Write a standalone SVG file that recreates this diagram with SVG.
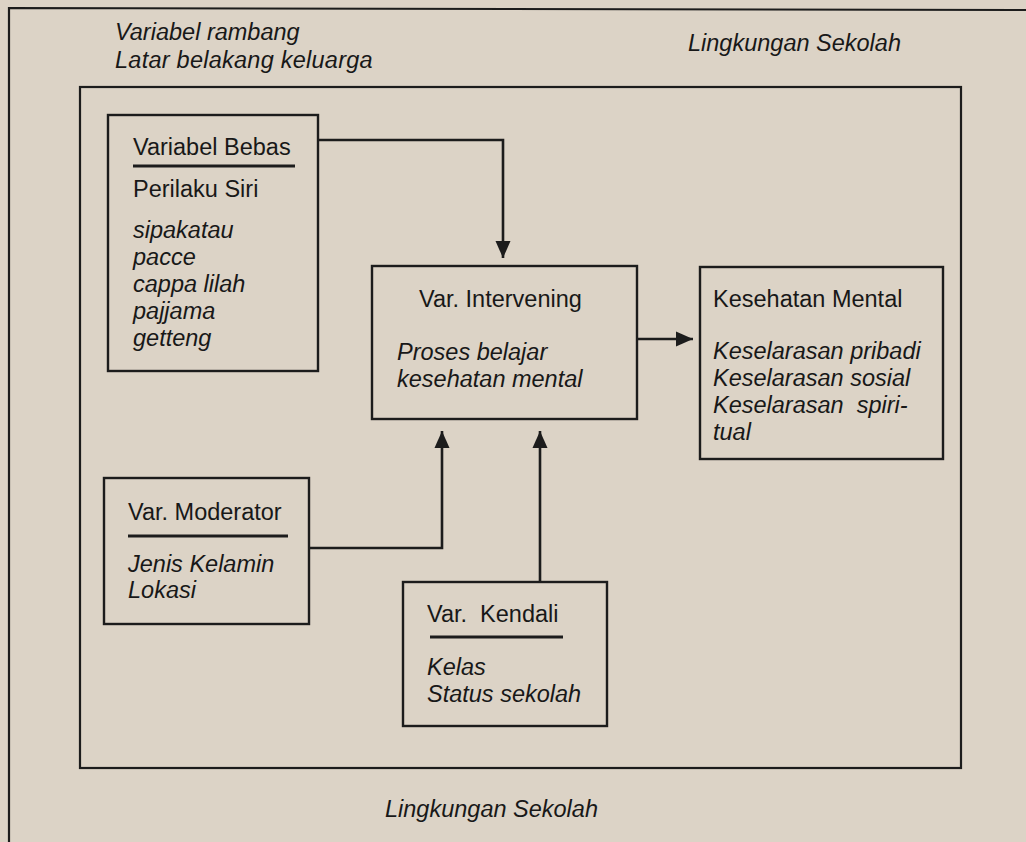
<svg xmlns="http://www.w3.org/2000/svg" width="1026" height="842" viewBox="0 0 1026 842">
<defs>
<style>
.bg{fill:#dcd3c6}
.frame{fill:none;stroke:#1c1c1c;stroke-width:2.2}
.box{fill:none;stroke:#1c1c1c;stroke-width:2.4}
.ul{stroke:#1c1c1c;stroke-width:3.2}
.edge{fill:none;stroke:#1c1c1c;stroke-width:2.6}
text{font-family:"Liberation Sans",Arial,Helvetica,sans-serif;font-size:23.5px;fill:#181818}
.it{font-style:italic}
</style>
<marker id="ah" markerUnits="userSpaceOnUse" markerWidth="18" markerHeight="18" viewBox="0 0 18 18" refX="17" refY="9" orient="auto">
<path d="M0,1.5 L17,9 L0,16.5 Z" fill="#1c1c1c"/>
</marker>
</defs>
<rect class="bg" x="0" y="0" width="1026" height="842"/>

<g id="outer-frame">
<polyline class="frame" points="9,842 9,8 1026,10"/>
<text class="it" x="115" y="40">Variabel rambang</text>
<text class="it" x="115" y="68" letter-spacing="0.25">Latar belakang keluarga</text>
</g>

<g id="inner-frame">
<rect class="frame" x="80" y="87" width="881" height="681"/>
<text class="it" x="688" y="51">Lingkungan Sekolah</text>
<text class="it" x="385" y="817">Lingkungan Sekolah</text>
</g>

<g id="variabel-bebas">
<rect class="box" x="108" y="115" width="210" height="256"/>
<text x="133" y="155">Variabel Bebas</text>
<line class="ul" x1="133" y1="166" x2="295" y2="166"/>
<text x="133" y="197">Perilaku Siri</text>
<text class="it" x="133" y="238">sipakatau</text>
<text class="it" x="133" y="265">pacce</text>
<text class="it" x="133" y="292">cappa lilah</text>
<text class="it" x="133" y="319">pajjama</text>
<text class="it" x="133" y="346">getteng</text>
</g>

<g id="var-intervening">
<rect class="box" x="372" y="266" width="265" height="153"/>
<text x="419" y="307">Var. Intervening</text>
<text class="it" x="397" y="360">Proses belajar</text>
<text class="it" x="397" y="387">kesehatan mental</text>
</g>

<g id="kesehatan-mental">
<rect class="box" x="700" y="267" width="243" height="192"/>
<text x="713" y="307">Kesehatan Mental</text>
<text class="it" x="713" y="359">Keselarasan pribadi</text>
<text class="it" x="713" y="386">Keselarasan sosial</text>
<text class="it" x="713" y="413" xml:space="preserve">Keselarasan  spiri-</text>
<text class="it" x="713" y="440">tual</text>
</g>

<g id="var-moderator">
<rect class="box" x="104" y="478" width="205" height="146"/>
<text x="128" y="520">Var. Moderator</text>
<line class="ul" x1="128" y1="536" x2="288" y2="536"/>
<text class="it" x="128" y="572">Jenis Kelamin</text>
<text class="it" x="128" y="598">Lokasi</text>
</g>

<g id="var-kendali">
<rect class="box" x="403" y="582" width="204" height="144"/>
<text x="427" y="622" xml:space="preserve">Var.  Kendali</text>
<line class="ul" x1="430" y1="637" x2="563" y2="637"/>
<text class="it" x="427" y="675">Kelas</text>
<text class="it" x="427" y="702">Status sekolah</text>
</g>

<g id="connectors">
<polyline class="edge" points="318,140 503,140 503,258" marker-end="url(#ah)"/>
<line class="edge" x1="637" y1="339" x2="693" y2="339" marker-end="url(#ah)"/>
<polyline class="edge" points="309,548 442,548 442,431" marker-end="url(#ah)"/>
<line class="edge" x1="540" y1="582" x2="540" y2="431" marker-end="url(#ah)"/>
</g>
</svg>
